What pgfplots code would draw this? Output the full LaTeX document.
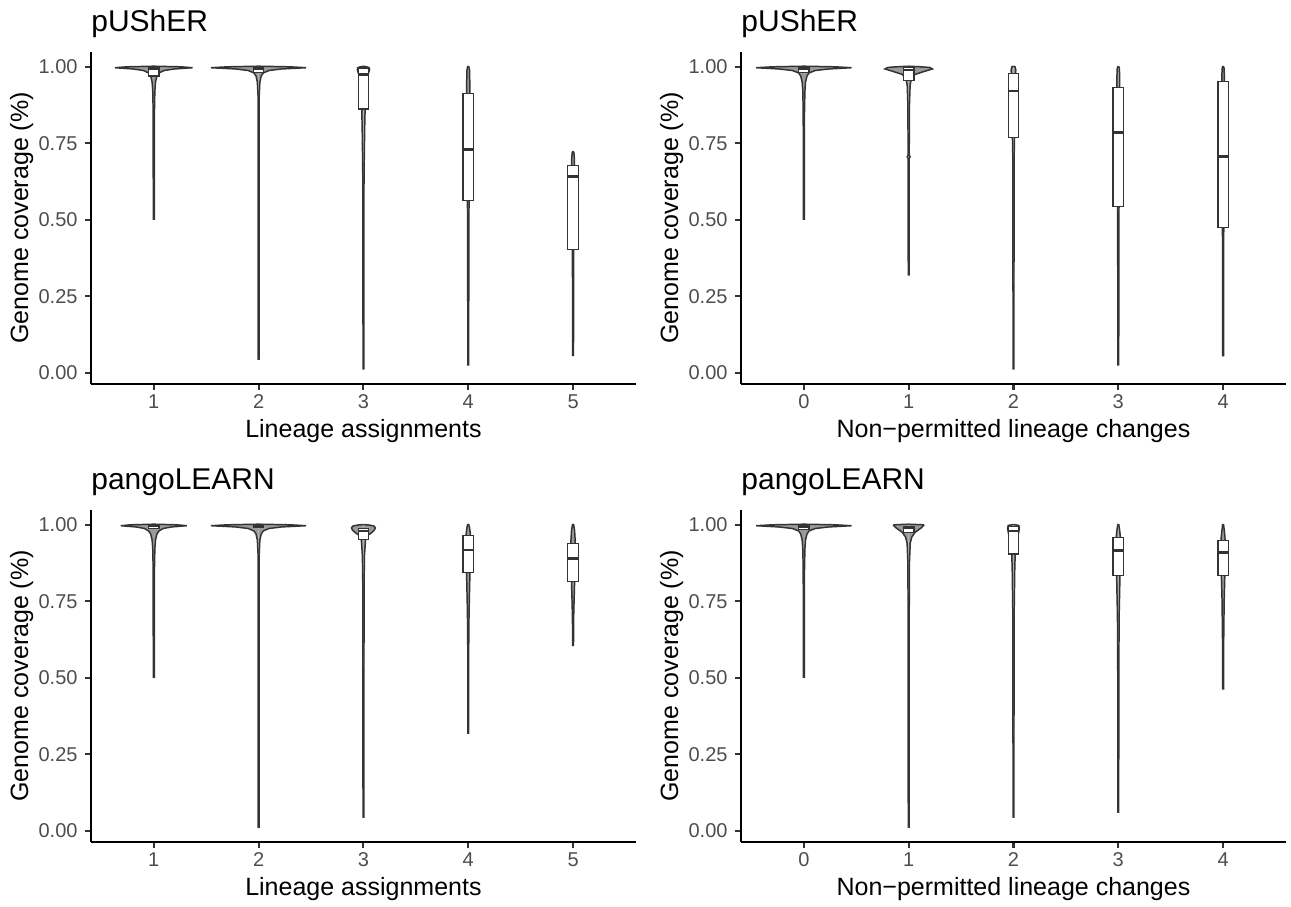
\documentclass[border=0pt]{standalone}
\usepackage{fontspec}
\setmainfont{Liberation Sans}
\usepackage{pgfplots}
\usepackage{pgfplotstable}
\pgfplotsset{compat=1.18}

\definecolor{vfill}{HTML}{9A9A9A}
\definecolor{vline}{HTML}{333333}
\definecolor{ticklab}{HTML}{4D4D4D}

% ---------- violin profiles: v = genome coverage, w = half width ----------
\pgfplotstableread{
v w
0.502 0
0.502 0.005
0.85 0.006
0.92 0.010
0.95 0.016
0.97 0.030
0.98 0.050
0.988 0.10
0.993 0.20
0.997 0.37
1.000 0.26
1.002 0
}\tAa
\pgfplotstableread{
v w
0.045 0
0.045 0.004
0.90 0.005
0.95 0.012
0.97 0.025
0.98 0.045
0.988 0.10
0.993 0.22
0.997 0.454
1.000 0.30
1.002 0
}\tAb
\pgfplotstableread{
v w
0.013 0
0.013 0.004
0.60 0.005
0.70 0.008
0.80 0.012
0.86 0.016
0.93 0.025
0.97 0.04
0.99 0.058
0.997 0.055
1.000 0.03
1.002 0
}\tAc
\pgfplotstableread{
v w
0.026 0
0.026 0.004
0.50 0.006
0.56 0.008
0.70 0.012
0.85 0.014
0.95 0.015
0.99 0.012
1.000 0.006
1.002 0
}\tAd
\pgfplotstableread{
v w
0.057 0
0.057 0.004
0.40 0.006
0.55 0.010
0.65 0.014
0.70 0.013
0.72 0.008
0.724 0
}\tAe
% top right
\pgfplotstableread{
v w
0.502 0
0.502 0.005
0.85 0.006
0.92 0.010
0.95 0.016
0.97 0.030
0.98 0.050
0.988 0.11
0.993 0.24
0.997 0.455
1.000 0.30
1.002 0
}\tBa
\pgfplotstableread{
v w
0.32 0
0.32 0.004
0.70 0.005
0.706 0.014
0.712 0.005
0.88 0.008
0.94 0.014
0.96 0.025
0.975 0.06
0.985 0.15
0.993 0.226
0.998 0.20
1.000 0.12
1.002 0
}\tBb
\pgfplotstableread{
v w
0.013 0
0.013 0.004
0.70 0.006
0.77 0.010
0.90 0.015
0.97 0.020
0.99 0.022
1.000 0.015
1.002 0
}\tBc
\pgfplotstableread{
v w
0.026 0
0.026 0.004
0.50 0.006
0.70 0.010
0.90 0.014
0.97 0.013
0.995 0.010
1.000 0.005
1.002 0
}\tBd
\pgfplotstableread{
v w
0.056 0
0.056 0.004
0.45 0.006
0.70 0.010
0.90 0.013
0.97 0.012
0.995 0.009
1.000 0.005
1.002 0
}\tBe
% bottom left
\pgfplotstableread{
v w
0.502 0
0.502 0.005
0.85 0.006
0.92 0.010
0.95 0.016
0.97 0.030
0.98 0.050
0.988 0.09
0.993 0.17
0.997 0.315
1.000 0.22
1.002 0
}\tCa
\pgfplotstableread{
v w
0.012 0
0.012 0.004
0.90 0.005
0.95 0.012
0.97 0.025
0.98 0.045
0.988 0.10
0.993 0.22
0.997 0.454
1.000 0.30
1.002 0
}\tCb
\pgfplotstableread{
v w
0.045 0
0.045 0.004
0.80 0.006
0.90 0.010
0.95 0.020
0.965 0.040
0.975 0.080
0.983 0.105
0.990 0.114
0.996 0.100
0.999 0.060
1.001 0
}\tCc
\pgfplotstableread{
v w
0.319 0
0.319 0.004
0.65 0.005
0.75 0.010
0.84 0.016
0.92 0.020
0.97 0.020
0.99 0.013
1.000 0.006
1.002 0
}\tCd
\pgfplotstableread{
v w
0.606 0
0.606 0.004
0.70 0.006
0.78 0.012
0.85 0.018
0.95 0.020
0.98 0.015
1.000 0.006
1.002 0
}\tCe
% bottom right
\pgfplotstableread{
v w
0.012 0
0.012 0.004
0.70 0.005
0.88 0.008
0.94 0.015
0.96 0.030
0.975 0.060
0.990 0.120
0.998 0.144
1.000 0.140
1.002 0
}\tDb
\pgfplotstableread{
v w
0.045 0
0.045 0.004
0.70 0.006
0.85 0.012
0.90 0.016
0.95 0.030
0.975 0.050
0.990 0.056
0.998 0.050
1.001 0
}\tDc
\pgfplotstableread{
v w
0.061 0
0.061 0.004
0.50 0.005
0.70 0.008
0.80 0.014
0.90 0.020
0.96 0.020
0.985 0.012
1.000 0.005
1.002 0
}\tDd
\pgfplotstableread{
v w
0.464 0
0.464 0.004
0.60 0.005
0.75 0.010
0.83 0.016
0.90 0.020
0.96 0.018
0.985 0.010
1.000 0.005
1.002 0
}\tDe

\newcommand{\violin}[2]{%
  \addplot[fill=vfill, draw=none] table[x expr=#1+\thisrow{w}, y=v] {#2} -- cycle;
  \addplot[fill=vfill, draw=none] table[x expr=#1-\thisrow{w}, y=v] {#2} -- cycle;
  \addplot[vline, line width=0.65pt] table[x expr=#1+\thisrow{w}, y=v] {#2};
  \addplot[vline, line width=0.65pt] table[x expr=#1-\thisrow{w}, y=v] {#2};
}
% box: position, lower quartile, median, upper quartile
\newcommand{\bx}[4]{%
  \pgfmathsetmacro\xa{#1-0.05}\pgfmathsetmacro\xb{#1+0.05}%
  \addplot[draw=vline, fill=white, line width=0.55pt]
    coordinates {(\xa,#2) (\xb,#2) (\xb,#4) (\xa,#4)} -- cycle;
  \addplot[vline, line width=1.2pt] coordinates {(\xa,#3) (\xb,#3)};
}

\pgfplotsset{
  panel/.style={
    scale only axis, width=239.8pt, height=146.1pt,
    ymin=-0.036, ymax=1.049,
    clip=false,
    axis lines*=left,
    axis line style={black, line width=1.0pt},
    tick align=outside,
    major tick length=2.5pt,
    tick style={vline, line width=0.9pt},
    ytick={0,0.25,0.5,0.75,1},
    yticklabels={0.00,0.25,0.50,0.75,1.00},
    ticklabel style={font=\fontsize{8.8}{10}\selectfont, text=ticklab},
    yticklabel style={anchor=east, inner sep=0pt, xshift=-3.2pt},
    xticklabel style={anchor=base, inner sep=0pt, yshift=-8.3pt},
    /pgf/number format/assume math mode=true,
    label style={font=\fontsize{11}{13}\selectfont, text=black},
    ylabel={Genome coverage (\%)},
    ylabel style={at={(axis description cs:-0.127,0.5)}, anchor=center},
    xlabel style={at={(axis description cs:0.5,0)}, anchor=base, yshift=-23.8pt, inner sep=0pt},
    every axis title shift=0pt,
    title style={at={(axis description cs:0,1)}, anchor=base west, inner sep=0pt,
      yshift=8.8pt, font=\fontsize{13.2}{15}\selectfont},
  },
  leftp/.style={xmin=0.4, xmax=5.6, xtick={1,2,3,4,5}, xticklabels={1,2,3,4,5},
    xlabel={Lineage assignments}},
  rightp/.style={xmin=-0.6, xmax=4.6, xtick={0,1,2,3,4}, xticklabels={0,1,2,3,4},
    xlabel={Non−permitted lineage changes}},
}

\begin{document}
\begin{tikzpicture}
\useasboundingbox (0,0) rectangle (568pt,399pt);

% top left
\begin{axis}[panel, leftp, title={pUShER}, at={(40pt,230.1pt)}, anchor=south west]
\violin{1}{\tAa}
\violin{2}{\tAb}
\violin{3}{\tAc}
\violin{4}{\tAd}
\violin{5}{\tAe}
\bx{1}{0.970}{0.993}{0.998}
\bx{2}{0.982}{0.993}{0.998}
\bx{3}{0.862}{0.975}{0.996}
\bx{4}{0.562}{0.731}{0.914}
\bx{5}{0.402}{0.642}{0.678}
\end{axis}

% top right
\begin{axis}[panel, rightp, title={pUShER}, at={(326pt,230.1pt)}, anchor=south west]
\violin{0}{\tBa}
\violin{1}{\tBb}
\violin{2}{\tBc}
\violin{3}{\tBd}
\violin{4}{\tBe}
\bx{0}{0.982}{0.994}{0.998}
\bx{1}{0.955}{0.990}{0.997}
\bx{2}{0.770}{0.921}{0.979}
\bx{3}{0.543}{0.785}{0.932}
\bx{4}{0.476}{0.707}{0.952}
\end{axis}

% bottom left
\begin{axis}[panel, leftp, title={pangoLEARN}, at={(40pt,28.6pt)}, anchor=south west]
\violin{1}{\tCa}
\violin{2}{\tCb}
\violin{3}{\tCc}
\violin{4}{\tCd}
\violin{5}{\tCe}
\bx{1}{0.988}{0.996}{0.999}
\bx{2}{0.990}{0.996}{0.999}
\bx{3}{0.953}{0.980}{0.989}
\bx{4}{0.844}{0.918}{0.964}
\bx{5}{0.815}{0.891}{0.940}
\end{axis}

% bottom right
\begin{axis}[panel, rightp, title={pangoLEARN}, at={(326pt,28.6pt)}, anchor=south west]
\violin{0}{\tBa}
\violin{1}{\tDb}
\violin{2}{\tDc}
\violin{3}{\tDd}
\violin{4}{\tDe}
\bx{0}{0.985}{0.995}{0.999}
\bx{1}{0.975}{0.990}{0.995}
\bx{2}{0.905}{0.980}{0.995}
\bx{3}{0.835}{0.915}{0.958}
\bx{4}{0.835}{0.909}{0.949}
\end{axis}
\end{tikzpicture}
\end{document}
